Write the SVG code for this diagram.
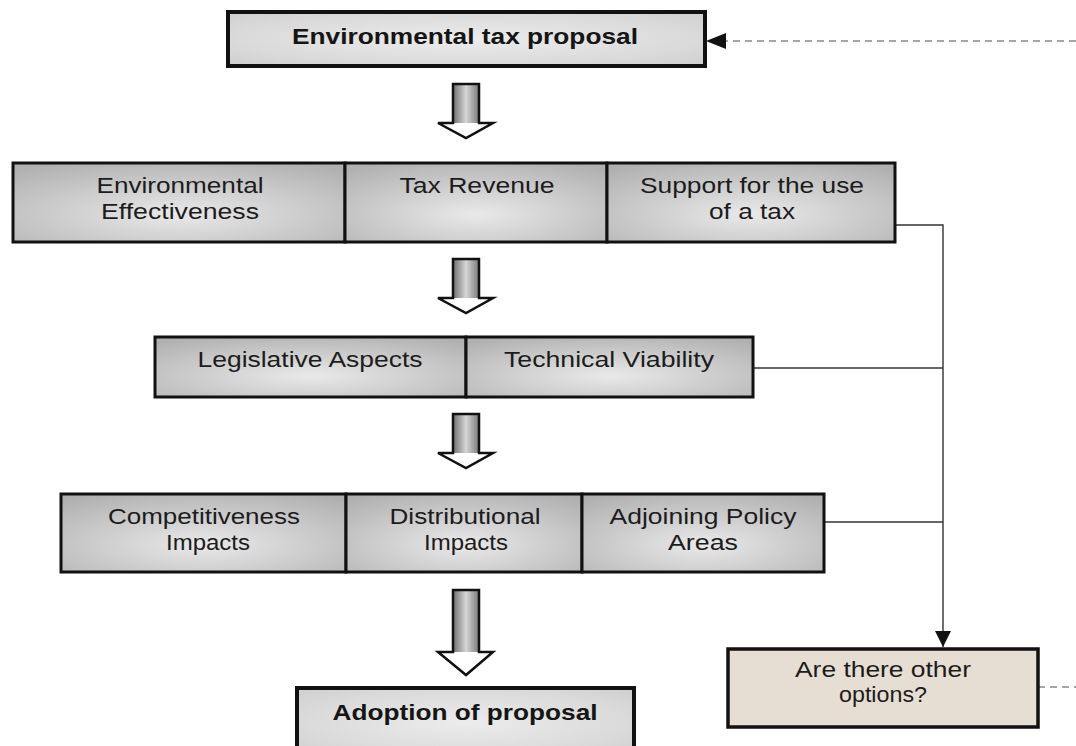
<svg xmlns="http://www.w3.org/2000/svg" width="1076" height="746" viewBox="0 0 1076 746">
<style>
.t{font-family:"Liberation Sans",Arial,sans-serif;font-size:22px;fill:#1c1c1c;text-anchor:middle}
.b{font-weight:bold;fill:#151515}
.cell{fill:url(#gray);stroke:#111;stroke-width:3}
.marble{fill:url(#marble);stroke:#111;stroke-width:4}
.conn{fill:none;stroke:#333;stroke-width:1.4}
.dash{fill:none;stroke:#888;stroke-width:1.3;stroke-dasharray:7 5}
.aout{fill:none;stroke:#111;stroke-width:2.5;stroke-linejoin:miter}
</style>
<defs>
<radialGradient id="gray" cx="0.5" cy="0.65" r="0.75">
<stop offset="0" stop-color="#e9e9e9"/>
<stop offset="1" stop-color="#b0b0b0"/>
</radialGradient>
<radialGradient id="marble" cx="0.5" cy="0.5" r="0.8">
<stop offset="0" stop-color="#ececec"/>
<stop offset="0.6" stop-color="#dadada"/>
<stop offset="1" stop-color="#c9c9c9"/>
</radialGradient>
<linearGradient id="shaft" x1="0" y1="0" x2="1" y2="0">
<stop offset="0" stop-color="#6e6e6e"/>
<stop offset="0.5" stop-color="#d6d6d6"/>
<stop offset="1" stop-color="#7a7a7a"/>
</linearGradient>
<marker id="tri" viewBox="0 0 10 10" refX="10" refY="5" markerWidth="16" markerHeight="16" markerUnits="userSpaceOnUse" orient="auto">
<path d="M0,0 L10,5 L0,10 Z" fill="#111"/>
</marker>
<g id="arrowS">
<path d="M-13,0 H13 V39 H27 L0,54 L-28,39 H-13 Z" fill="#fff"/>
<rect x="-13" y="0" width="26" height="39" fill="url(#shaft)"/>
<path class="aout" d="M-13,0 H13 V39 H27 L0,54 L-28,39 H-13 Z"/>
</g>
</defs>

<g id="connectors">
<line class="dash" x1="1076" y1="41" x2="722" y2="41"/>
<path d="M726,33 L706,41 L726,49 Z" fill="#111"/>
<polyline class="conn" points="895,225 943,225 943,647" marker-end="url(#tri)"/>
<line class="conn" x1="753" y1="368" x2="943" y2="368"/>
<line class="conn" x1="824" y1="522" x2="943" y2="522"/>
<line class="dash" x1="1038" y1="687" x2="1076" y2="687"/>
<use href="#arrowS" x="466" y="84"/>
<use href="#arrowS" x="466" y="259"/>
<use href="#arrowS" x="466" y="414"/>
<g id="arrow4">
<path d="M453,590 H479 V652 H493 L466,675 L438,652 H453 Z" fill="#fff"/>
<rect x="453" y="590" width="26" height="62" fill="url(#shaft)"/>
<path class="aout" d="M453,590 H479 V652 H493 L466,675 L438,652 H453 Z"/>
</g>
</g>

<g id="proposal">
<rect class="marble" x="228" y="12" width="477" height="54"/>
<text class="t b" x="465" y="44" textLength="346" lengthAdjust="spacingAndGlyphs">Environmental tax proposal</text>
</g>

<g id="env-effectiveness">
<rect class="cell" x="13" y="163" width="332" height="79"/>
<text class="t" x="180" y="193" textLength="167" lengthAdjust="spacingAndGlyphs">Environmental</text>
<text class="t" x="180" y="219" textLength="158" lengthAdjust="spacingAndGlyphs">Effectiveness</text>
</g>
<g id="tax-revenue">
<rect class="cell" x="345" y="163" width="262" height="79"/>
<text class="t" x="477" y="193" textLength="155" lengthAdjust="spacingAndGlyphs">Tax Revenue</text>
</g>
<g id="support">
<rect class="cell" x="607" y="163" width="288" height="79"/>
<text class="t" x="752" y="193" textLength="224" lengthAdjust="spacingAndGlyphs">Support for the use</text>
<text class="t" x="752" y="219" textLength="86" lengthAdjust="spacingAndGlyphs">of a tax</text>
</g>

<g id="legislative">
<rect class="cell" x="155" y="337" width="311" height="60"/>
<text class="t" x="310" y="367" textLength="225" lengthAdjust="spacingAndGlyphs">Legislative Aspects</text>
</g>
<g id="technical">
<rect class="cell" x="466" y="337" width="287" height="60"/>
<text class="t" x="609" y="367" textLength="210" lengthAdjust="spacingAndGlyphs">Technical Viability</text>
</g>

<g id="competitiveness">
<rect class="cell" x="61" y="494" width="285" height="78"/>
<text class="t" x="204" y="524" textLength="192" lengthAdjust="spacingAndGlyphs">Competitiveness</text>
<text class="t" x="208" y="550" textLength="84" lengthAdjust="spacingAndGlyphs">Impacts</text>
</g>
<g id="distributional">
<rect class="cell" x="346" y="494" width="236" height="78"/>
<text class="t" x="465" y="524" textLength="151" lengthAdjust="spacingAndGlyphs">Distributional</text>
<text class="t" x="466" y="550" textLength="84" lengthAdjust="spacingAndGlyphs">Impacts</text>
</g>
<g id="adjoining">
<rect class="cell" x="582" y="494" width="242" height="78"/>
<text class="t" x="703" y="524" textLength="187" lengthAdjust="spacingAndGlyphs">Adjoining Policy</text>
<text class="t" x="703" y="550" textLength="70" lengthAdjust="spacingAndGlyphs">Areas</text>
</g>

<g id="adoption">
<rect class="marble" x="297" y="688" width="337" height="70"/>
<text class="t b" x="465" y="720" textLength="265" lengthAdjust="spacingAndGlyphs">Adoption of proposal</text>
</g>

<g id="other-options">
<rect x="728" y="649" width="310" height="78" fill="#e7ded3" stroke="#111" stroke-width="3.5"/>
<text class="t" x="883" y="677" textLength="176" lengthAdjust="spacingAndGlyphs">Are there other</text>
<text class="t" x="883" y="702" textLength="88" lengthAdjust="spacingAndGlyphs">options?</text>
</g>
</svg>
